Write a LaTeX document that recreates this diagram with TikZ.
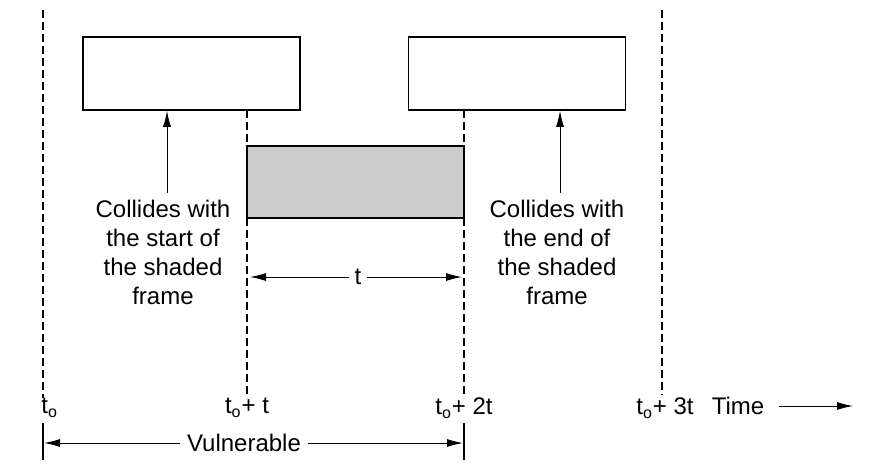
\documentclass[tikz,border=0pt]{standalone}
\usepackage{fontspec}
\setmainfont{Liberation Sans}
\usepackage{tikz}
\usetikzlibrary{arrows.meta}

\begin{document}
\begin{tikzpicture}[x=0.5pt,y=-0.5pt,
    frame/.style={draw,line width=0.75pt,inner sep=0pt,minimum width=108.5pt,minimum height=36.5pt},
    timeline/.style={line width=0.6pt,dash pattern=on 4pt off 2pt},
    arr/.style={line width=0.5pt,-{Latex[length=8pt,width=4pt]}},
    lbl/.style={font=\fontsize{12}{14.5}\selectfont,align=center}]
    \useasboundingbox (0,0) rectangle (887,471);
    % Frames that collide
    \node[frame] (early) at (191.5,73.5) {};
    \node[frame] (late) at (517,73.5) {};
    % Time labels
    \node[lbl,anchor=west,inner sep=0pt] (t0) at (41,408) {t\textsubscript{o}};
    \node[lbl,inner sep=1pt] (t1) at (247,408) {t\textsubscript{o}+ t};
    \node[lbl,inner sep=1pt] (t2) at (464,408) {t\textsubscript{o}+ 2t};
    \node[lbl,inner sep=1pt] (t3) at (665,408) {t\textsubscript{o}+ 3t};
    \node[lbl] (time) at (738,406) {Time};
    \coordinate (timeend) at (853,406);
    \draw[arr] (time.east) ++(4pt,0) -- (timeend);
    % Dashed time lines
    \coordinate (top0) at (43,10);
    \coordinate (top3) at (662,10);
    \draw[timeline] (top0) -- (top0 |- t0.north);
    \draw[timeline] (247,110) -- (247,398);
    \draw[timeline] (464,110) -- (464,398);
    \draw[timeline] (top3) -- (top3 |- t3.north);
    % Shaded frame
    \node[draw,fill=black!20,line width=0.6pt,inner sep=0pt,minimum width=108.5pt,minimum height=36pt] (shaded) at (355.5,182) {};
    % Length t
    \node[lbl,inner sep=2.5pt] (len) at (358,277) {t};
    \coordinate (lenL) at (250,277);
    \coordinate (lenR) at (462,277);
    \draw[arr] (len) -- (lenL);
    \draw[arr] (len) -- (lenR);
    % Collisions
    \node[lbl] (startc) at (163,252) {Collides with\\the start of\\the shaded\\frame};
    \node[lbl] (endc) at (557,252) {Collides with\\the end of\\the shaded\\frame};
    \draw[arr] ([xshift=2pt]startc.north) -- ([xshift=2pt]startc.north |- early.south);
    \draw[arr] ([xshift=1.5pt]endc.north) -- ([xshift=1.5pt]endc.north |- late.south);
    % Vulnerable period
    \draw[line width=0.6pt] (43,423) -- (43,460);
    \draw[line width=0.6pt] (464,423) -- (464,460);
    \node[lbl] (vuln) at (244,443) {Vulnerable};
    \coordinate (vulnL) at (44,443);
    \coordinate (vulnR) at (463,443);
    \draw[arr] (vuln) -- (vulnL);
    \draw[arr] (vuln) -- (vulnR);
\end{tikzpicture}
\end{document}
